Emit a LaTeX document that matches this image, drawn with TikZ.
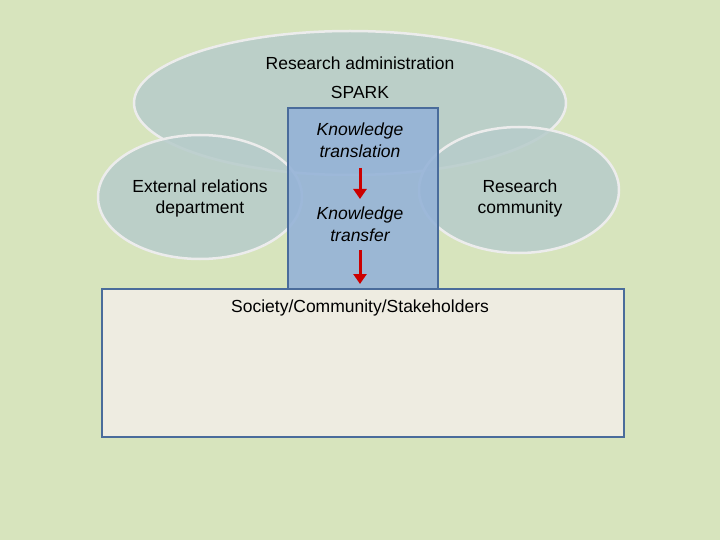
\documentclass[tikz,border=0pt]{standalone}
\usepackage{fontspec}
\setmainfont{Liberation Sans}
\usetikzlibrary{arrows.meta,shapes.geometric}
\definecolor{bg}{HTML}{D7E4BD}
\definecolor{ellc}{HTML}{B7CCCB}
\definecolor{boxb}{HTML}{95B3D7}
\definecolor{boxc}{HTML}{EEECE1}
\definecolor{edge}{HTML}{4A6C9B}
\begin{document}
\begin{tikzpicture}[x=1pt,y=-1pt,
  ell/.style={draw=white!85!gray,line width=2.5pt,fill=ellc,fill opacity=0.85},
  lbl/.style={font=\fontsize{17.5}{21}\selectfont,align=center},
  ilbl/.style={font=\fontsize{17.5}{22.5}\selectfont\itshape,align=center},
  arr/.style={draw=red!80!black,line width=3pt,-{Triangle[length=10pt,width=13pt]}}]
\fill[bg] (0,0) rectangle (720,540);
\useasboundingbox (0,0) rectangle (720,540);
\node[ell,ellipse,minimum width=432,minimum height=144] (top) at (350,103) {};
\node[ell,ellipse,minimum width=204,minimum height=124] (left) at (200,197) {};
\node[ell,ellipse,minimum width=200,minimum height=126] (right) at (519,190) {};
\node[draw=edge,line width=1.5pt,fill=boxb,fill opacity=0.9,minimum width=150,minimum height=182,inner sep=0] (mid) at (363,199) {};
\node[draw=edge,line width=1.5pt,fill=boxc,minimum width=522,minimum height=148,inner sep=0] (soc) at (363,363) {};
\node[lbl] (ra) at (360,63) {Research administration};
\node[lbl] (sp) at (360,92) {SPARK};
\node[ilbl] (kt) at (360,140) {Knowledge\\translation};
\node[ilbl] (kf) at (360,224) {Knowledge\\transfer};
\node[lbl] (er) at (200,198) {External relations\\department};
\node[lbl] (rc) at (520,198) {Research\\community};
\node[lbl] (st) at (360,308) {Society/Community/Stakeholders};
\coordinate (a1) at (360,168);
\coordinate (b1) at (360,199);
\coordinate (a2) at (360,250);
\coordinate (b2) at (360,284);
\draw[arr] (a1) -- (b1);
\draw[arr] (a2) -- (b2);
\end{tikzpicture}
\end{document}
